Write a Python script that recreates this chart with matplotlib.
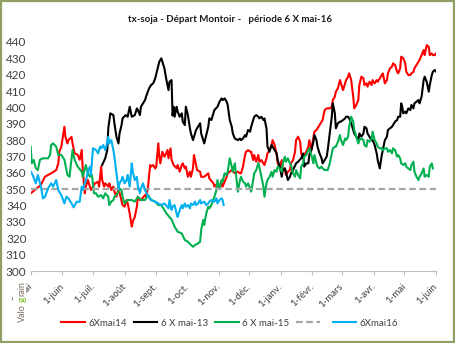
import numpy as np
import matplotlib
matplotlib.use("Agg")
import matplotlib.pyplot as plt
from matplotlib.patches import Rectangle
from matplotlib.transforms import ScaledTranslation

# x axis = days since 1 May (13 months shown)
START = np.datetime64("2015-05-01")
month_starts = np.array(["2015-05-01", "2015-06-01", "2015-07-01", "2015-08-01",
                         "2015-09-01", "2015-10-01", "2015-11-01", "2015-12-01",
                         "2016-01-01", "2016-02-01", "2016-03-01", "2016-04-01",
                         "2016-05-01", "2016-06-01"], dtype="datetime64[D]")
month_labels = ["1-mai", "1-juin", "1-juil.", "1-août", "1-sept.", "1-oct.", "1-nov.",
                "1-déc.", "1-janv.", "1-févr.", "1-mars", "1-avr.", "1-mai", "1-juin"]

series_labels = ["6Xmai14", "6 X mai-13", "6 X mai-15", " ", "6Xmai16"]
ref_level = 350

red_days = [0, 4, 10, 14, 20, 25, 27, 28, 30, 33, 34, 36, 37, 40, 41, 43, 46, 48, 50, 51,
            53, 54, 56, 59, 63, 66, 67, 69, 70, 72, 73, 76, 77, 79, 81, 82, 84, 86, 88, 90,
            92, 94, 95, 97, 99, 100, 102, 104, 105, 107, 108, 112, 113, 115, 117, 118, 120, 122, 123, 125,
            126, 127, 129, 131, 132, 134, 135, 137, 138, 140, 143, 144, 146, 148, 149, 151, 152, 154, 156, 157,
            159, 160, 161, 163, 166, 167, 170, 174, 175, 179, 180, 183, 185, 187, 188, 190, 192, 193, 197, 200,
            203, 205, 206, 208, 210, 211, 213, 215, 216, 218, 219, 221, 223, 224, 226, 228, 229, 231, 232, 234,
            236, 237, 239, 241, 242, 244, 246, 247, 249, 250, 252, 254, 255, 257, 259, 260, 262, 264, 265, 267,
            268, 270, 272, 273, 275, 276, 278, 280, 281, 283, 285, 286, 288, 290, 291, 293, 295, 296, 298, 299,
            301, 303, 304, 306, 308, 309, 311, 312, 314, 316, 317, 319, 321, 322, 324, 326, 327, 329, 330, 332,
            334, 335, 337, 339, 340, 342, 344, 345, 347, 349, 350, 352, 354, 355, 357, 359, 360, 362, 363, 365,
            367, 368, 370, 372, 373, 375, 376, 378, 380, 381, 383, 385, 386, 388, 390, 391, 393, 394, 396, 397]
red_vals = [347.5, 349.5, 352.6, 357.7, 359.7, 361.7, 365.8, 372.9, 376, 388.2, 382, 378, 380, 382, 378, 372, 371, 368, 374, 361.7,
            347.5, 351.6, 355.6, 349.5, 353.6, 354.6, 351.6, 363.8, 355.6, 351.6, 353.6, 351.6, 353.6, 349.5, 351.6, 348.5, 345.4, 350.5, 345.4, 340.3,
            339.3, 343.4, 341.3, 335.2, 327.1, 330.1, 333.2, 339.3, 345.4, 343.4, 343.4, 346.4, 345.4, 351.6, 364.8, 363.8, 364.8, 362.7, 363.8, 378,
            369.9, 365.8, 372.9, 369.9, 370.9, 374, 368.9, 375, 368, 364.8, 362.8, 364.8, 360.7, 364.8, 365.8, 362.8, 363.8, 357.6, 360.7, 357.6,
            362.8, 370.9, 367.8, 361.7, 360.7, 357.6, 357.6, 359.7, 356.6, 353.6, 351.6, 353.6, 350.5, 353.6, 351.6, 354.6, 357.6, 359.7, 361.7, 359.7,
            360.7, 359.7, 359.7, 363.8, 370.9, 372.9, 373.9, 372.9, 372.9, 367.8, 370.9, 366.8, 370.9, 366.8, 367.8, 365.8, 364.8, 368.9, 371.9, 373.9,
            377, 380, 377, 370.9, 365.8, 363.8, 367.8, 361.7, 362.7, 358.7, 360.7, 361.7, 365.8, 367.8, 372.9, 380, 382.1, 379, 371.9, 368.9,
            370.9, 372.9, 376, 380, 373.9, 378, 385.2, 386.2, 387.2, 389.2, 391.3, 392.3, 398.4, 399.4, 399.4, 399.4, 400.4, 404.5, 406.6, 409.6,
            411.7, 416.7, 414.7, 410.6, 414.7, 416.7, 418.8, 420.8, 416.7, 406.6, 399.4, 401.5, 404.5, 413.7, 418.8, 417.8, 413.7, 414.7, 412.7, 415.7,
            413.7, 416.7, 414.7, 416.7, 415.7, 417.8, 419.8, 420.8, 414.7, 416.7, 420.8, 423.9, 424.9, 426.9, 425.9, 421.8, 420.8, 423.9, 431, 430,
            426.9, 421.8, 419.8, 419.8, 420.8, 421.8, 423.9, 425.9, 428, 429, 432, 435.1, 432, 438.1, 437.1, 432, 433, 432, 432, 433]

black_days = [70, 73, 75, 76, 78, 81, 82, 84, 86, 87, 89, 90, 93, 95, 97, 99, 102, 104, 105, 107,
              108, 112, 113, 116, 118, 120, 122, 124, 126, 128, 130, 131, 133, 135, 136, 138, 139, 140, 141, 143,
              144, 146, 148, 149, 151, 152, 154, 156, 157, 159, 161, 162, 164, 166, 167, 169, 170, 172, 174, 175,
              177, 180, 183, 185, 187, 188, 190, 192, 193, 195, 197, 198, 200, 203, 205, 206, 208, 210, 211, 213,
              215, 216, 218, 219, 221, 223, 224, 226, 228, 229, 231, 232, 234, 236, 237, 239, 241, 242, 244, 246,
              247, 249, 250, 252, 254, 255, 257, 260, 262, 265, 267, 268, 270, 272, 273, 275, 277, 278, 280, 281,
              283, 285, 286, 288, 290, 291, 293, 295, 296, 298, 299, 301, 303, 304, 306, 308, 309, 311, 312, 314,
              316, 317, 319, 321, 322, 324, 326, 327, 329, 330, 332, 334, 335, 337, 339, 340, 342, 344, 345, 347,
              349, 350, 352, 354, 355, 357, 359, 360, 362, 363, 364, 365, 367, 368, 370, 372, 373, 375, 376, 378,
              380, 381, 383, 385, 386, 388, 390, 391, 393, 394, 396, 397]
black_vals = [364.8, 368.9, 373.9, 387.2, 396.4, 395.3, 390.3, 382.1, 378, 384.1, 389.2, 393.3, 395.3, 394.3, 400.4, 394.3, 395.3, 399.4, 398.4, 395.3,
              400.4, 404.5, 406.6, 411.7, 413.7, 414.7, 417.8, 422.9, 428, 430, 425.9, 423.9, 416.7, 410.6, 415.7, 416.7, 395, 400.4, 394.3, 400.4,
              397.4, 394.3, 396.4, 391.3, 389.2, 400.4, 395.3, 387.2, 384.1, 380, 384.1, 386.2, 388.2, 390.3, 384.1, 380, 378, 383.1, 388.2, 393.3,
              392.3, 398.4, 400.4, 403.5, 405.5, 404.5, 405.5, 403.5, 401.5, 392.3, 388.2, 384.1, 381, 380, 381, 380, 381, 383.1, 382.1, 386.2,
              385.2, 388.2, 392.3, 394.3, 395.3, 394.3, 393.3, 394.3, 392.3, 393.3, 387.2, 376, 372.9, 377, 376, 373.9, 371.9, 367.8, 363.8, 357.6,
              361.7, 362.7, 360.7, 355.6, 357.6, 359.7, 361.7, 365.8, 366.8, 368.9, 371.9, 363.8, 365.8, 365.8, 370.9, 373.9, 379, 383.1, 380, 376,
              371.9, 368.9, 365.8, 367.8, 369.9, 373.9, 384.1, 394.3, 402.5, 396.4, 387.2, 390.3, 391.3, 391.3, 392.3, 393.3, 394.3, 394.3, 393.3, 390.3,
              386.2, 384.1, 382.1, 380, 384.1, 382.1, 384.1, 388.2, 387.2, 384.1, 382.1, 380, 380, 377, 371.9, 367.8, 362.7, 370.9, 374, 380,
              382.1, 386.2, 387.2, 388.2, 389.2, 391.3, 392.3, 394.3, 394.3, 402.5, 400.4, 396.4, 397.4, 396.4, 399.4, 398.4, 401.5, 399.4, 402.5, 403.5,
              404.5, 402.5, 406.6, 416.7, 418.8, 415.7, 409.6, 413.7, 419.8, 421.8, 422.9, 422]

green_days = [0, 1, 3, 5, 7, 9, 12, 17, 19, 20, 22, 25, 27, 30, 33, 36, 38, 40, 41, 43,
              46, 50, 51, 54, 56, 58, 60, 62, 64, 66, 69, 71, 73, 76, 77, 79, 81, 82, 84, 86,
              87, 89, 90, 92, 95, 99, 102, 105, 108, 112, 115, 118, 122, 125, 128, 131, 133, 135, 138, 141,
              144, 148, 151, 154, 157, 159, 161, 164, 166, 167, 169, 170, 172, 174, 175, 177, 180, 182, 183, 185,
              187, 188, 190, 192, 193, 195, 197, 198, 200, 201, 203, 205, 206, 208, 210, 211, 213, 215, 216, 218,
              219, 221, 223, 224, 226, 228, 229, 231, 232, 234, 236, 237, 239, 241, 242, 244, 246, 247, 249, 250,
              252, 254, 255, 257, 259, 260, 262, 264, 265, 267, 268, 270, 272, 273, 275, 277, 278, 280, 281, 283,
              285, 286, 288, 290, 291, 293, 295, 296, 298, 299, 301, 303, 304, 306, 308, 309, 311, 312, 314, 316,
              317, 319, 321, 322, 324, 326, 327, 329, 330, 332, 334, 335, 337, 339, 340, 342, 344, 345, 347, 349,
              350, 352, 354, 355, 357, 359, 360, 362, 363, 365, 367, 368, 370, 372, 373, 375, 376, 378, 380, 381,
              383, 385, 386, 388, 390, 391, 393, 394]
green_vals = [376, 365.8, 367.9, 362.8, 361.7, 368, 368.9, 368.9, 371, 377, 378, 376, 371, 371, 368, 358.7, 357.6, 368.9, 374, 368,
              363.8, 360.7, 357.6, 364.8, 359.7, 357.6, 358.7, 347.5, 347.5, 345.4, 346.4, 344.4, 347.5, 345.4, 340.3, 342.4, 343.4, 345.4, 346.4, 348.5,
              350.5, 349.5, 345.4, 341.3, 343.4, 343.4, 342.4, 345.4, 343.4, 343.4, 346.4, 343.4, 342.4, 340.3, 340.3, 337.3, 335.2, 333.7, 331.5, 327.1,
              324, 323, 318.9, 317.9, 315.9, 314.8, 315.9, 316.9, 317.9, 325, 331.2, 328.1, 335.2, 339.3, 338.3, 340.3, 345.4, 349.5, 355.6, 350.5,
              355.6, 354.6, 359.7, 358.7, 360.7, 368.9, 363.8, 360.7, 365.8, 359.7, 348.5, 355.6, 357.6, 354.6, 353.6, 351.6, 353.6, 350.5, 348.5, 355.6,
              359.7, 361.7, 365.8, 363.8, 357.6, 351.6, 345.4, 353.6, 355.6, 357.6, 360.7, 357.6, 361.7, 360.7, 363.8, 362.7, 360.7, 365.8, 369.9, 366.8,
              368.9, 365.8, 364.8, 359.7, 357.6, 361.7, 358.7, 356.6, 363.8, 365.8, 369.9, 370.9, 373.9, 375, 370.9, 365.8, 370.9, 365.8, 363.8, 362.7,
              363.8, 362.7, 361.7, 361.7, 361.7, 365.8, 371.9, 374.9, 376, 376, 379, 383.1, 380, 377, 381, 380, 382.1, 388.2, 394.3, 391.3,
              386.2, 382.1, 378, 380, 381, 380, 377, 376, 380, 379, 381, 385.2, 380, 378, 376, 375, 375, 373.9, 375, 375,
              372.9, 373.9, 371.9, 375, 373.9, 369.9, 370.9, 368.9, 365.8, 364.8, 365.8, 363.8, 362.7, 361.7, 364.8, 366.8, 360.7, 357.6, 355.6, 357.6,
              359.7, 362.7, 357.6, 358.7, 357.6, 363.8, 365.8, 362.7]

blue_days = [0, 2, 5, 7, 10, 12, 14, 17, 20, 22, 25, 27, 30, 33, 35, 37, 40, 42, 45, 48,
             50, 51, 53, 55, 56, 58, 59, 61, 64, 66, 68, 69, 71, 73, 74, 76, 77, 79, 81, 82,
             84, 86, 87, 89, 90, 92, 94, 95, 97, 99, 100, 102, 104, 105, 107, 108, 110, 112, 115, 118,
             122, 125, 128, 131, 135, 136, 138, 139, 141, 143, 144, 146, 148, 149, 151, 152, 154, 156, 157, 159,
             161, 162, 164, 166, 167, 170, 172, 174, 175, 177, 180, 182, 183, 185, 187, 188, 189]
blue_vals = [360.7, 358.7, 353.6, 358.7, 351.6, 344.4, 345.4, 350.5, 353.6, 351.6, 355.6, 349.5, 346.4, 341.3, 345.4, 344.4, 341.3, 338.9, 342.3, 342.3,
             351.6, 349.5, 353.6, 357.6, 360.7, 363.8, 358.7, 375, 374, 371.9, 376, 375, 377, 373.9, 376, 382.1, 378, 380, 373.9, 369.9,
             359.7, 350.5, 353.6, 355.6, 357.6, 353.6, 355.6, 358.7, 351.6, 365.8, 360.7, 355.6, 357.6, 351.6, 347.5, 350.5, 353.6, 349.5, 345.4, 343.4,
             342.3, 341.3, 340.3, 341.3, 338.3, 343.4, 337.3, 339.3, 340.3, 335, 333, 337.3, 340.3, 338.3, 341.3, 339.3, 340.3, 338.3, 341.3, 340.3,
             342.4, 340.3, 341.3, 343.4, 341.3, 342.4, 340.3, 341.3, 342.4, 343.4, 342.4, 344.4, 341.3, 343.4, 344.4, 343.4, 340.3]

plt.rcParams["font.family"] = ["Lato", "DejaVu Sans"]

fig = plt.figure(figsize=(4.55, 3.43), dpi=100)
ax = fig.add_axes([0.0675, 0.2099, 0.8905, 0.6677])

ax.plot(red_days, red_vals, color="#ff0000", lw=1.5, label=series_labels[0])
ax.plot(black_days, black_vals, color="#000000", lw=1.5, label=series_labels[1])
ax.plot(green_days, green_vals, color="#00b050", lw=1.5, label=series_labels[2])
ax.axhline(ref_level, color="#a6a6a6", lw=1.6, ls=(0, (3, 1.6)), label=series_labels[3])
ax.plot(blue_days, blue_vals, color="#00b0f0", lw=1.5, label=series_labels[4])

tick_days = (month_starts - START).astype(int)
ax.set_xlim(tick_days[0], tick_days[-1])
ax.set_ylim(300, 440)
ax.set_yticks(np.arange(300, 441, 10))
ax.set_xticks(tick_days)
ax.set_xticklabels(month_labels, rotation=45, ha="right", va="center",
                   rotation_mode="anchor", fontsize=7, color="#404040")
shift = ScaledTranslation(4 / 100, 0, fig.dpi_scale_trans)
for lab in ax.get_xticklabels():
    lab.set_transform(lab.get_transform() + shift)

for side in ["top", "right", "left"]:
    ax.spines[side].set_visible(False)
ax.spines["bottom"].set_color("#bfbfbf")
ax.tick_params(axis="y", length=0, pad=3, labelsize=8.5, labelcolor="#404040")
ax.tick_params(axis="x", length=3, color="#bfbfbf", pad=7)

fig.text(0.505, 0.944, "tx-soja - Départ Montoir -   période 6 X mai-16",
         ha="center", va="center", fontsize=7, fontweight="bold", color="#1a1a1a")

fig.legend(loc="center", bbox_to_anchor=(0.505, 0.058), ncol=5, frameon=False,
           fontsize=7, handlelength=2.4, handletextpad=0.35, columnspacing=0.75,
           labelcolor="#404040")

# logo, covering the start of the first date label
fig.patches.append(Rectangle((13 / 455, 1 - 323 / 343), 13 / 455, 40 / 343,
                             transform=fig.transFigure, facecolor="white",
                             edgecolor="none", zorder=2))
fig.text(22 / 455, 1 - 322 / 343, "Valo", rotation=90, ha="center", va="bottom",
         fontsize=6.5, color="#7d7064", zorder=3)
fig.text(22 / 455, 1 - 302 / 343, "g", rotation=90, ha="center", va="bottom",
         fontsize=7.5, color="#8cc63f", fontweight="bold", zorder=3)
fig.text(22 / 455, 1 - 295.5 / 343, "rain", rotation=90, ha="center", va="bottom",
         fontsize=6.5, color="#7d7064", zorder=3)

fig.patches.append(Rectangle((0.003, 0.004), 0.994, 0.992, transform=fig.transFigure,
                             facecolor="none", edgecolor="#8fa060", lw=1.6, zorder=5))

fig.savefig("out.png", dpi=100)
